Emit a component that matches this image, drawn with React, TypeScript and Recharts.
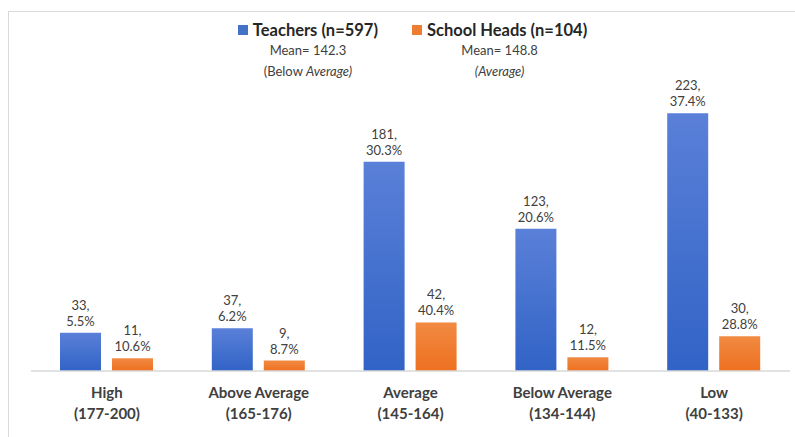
import React from "react";
import { BarChart, Bar, XAxis, YAxis, Legend, LabelList } from "recharts";

const categoryNames = ["High", "Above Average", "Average", "Below Average", "Low"];
const categoryRanges = ["(177-200)", "(165-176)", "(145-164)", "(134-144)", "(40-133)"];
const teacherCounts = [33, 37, 181, 123, 223];
const teacherPcts = [5.5, 6.2, 30.3, 20.6, 37.4];
const headCounts = [11, 9, 42, 12, 30];
const headPcts = [10.6, 8.7, 40.4, 11.5, 28.8];

const seriesOrder = ["teachers", "heads"];
const seriesNames: Record<string, string> = { teachers: "Teachers (n=597)", heads: "School Heads (n=104)" };
const seriesColors: Record<string, string> = { teachers: "#4472C4", heads: "#ED7D31" };
const seriesMeans: Record<string, string> = { teachers: "Mean= 142.3", heads: "Mean= 148.8" };
const seriesLevelPlain: Record<string, string> = { teachers: "(Below ", heads: "" };
const seriesLevelItalic: Record<string, string> = { teachers: "Average)", heads: "(Average)" };

const data = categoryNames.map((c, i) => ({
  cat: c,
  teachers: teacherCounts[i],
  heads: headCounts[i],
}));

const FONT = "Lato, 'Open Sans', sans-serif";

const makeLabel = (pcts: number[]) => (props: any) => {
  const { x, y, width, value, index } = props;
  const cx = Number(x) + Number(width) / 2;
  return (
    <text x={cx} y={Number(y) - 23} textAnchor="middle" fontSize={13} fill="#404040" fontFamily={FONT}>
      <tspan x={cx}>{value},</tspan>
      <tspan x={cx} dy={16}>{pcts[index].toFixed(1)}%</tspan>
    </text>
  );
};

const CatTick = (props: any) => {
  const { x, y, index } = props;
  return (
    <text x={x} y={y + 19} textAnchor="middle" fontSize={15} fontWeight="bold" fill="#404040" fontFamily={FONT}>
      <tspan x={x}>{categoryNames[index]}</tspan>
      <tspan x={x} dy={21}>{categoryRanges[index]}</tspan>
    </text>
  );
};

const LegendContent = (props: any) => {
  const payload = (props.payload || []).slice().sort(
    (a: any, b: any) => seriesOrder.indexOf(a.dataKey) - seriesOrder.indexOf(b.dataKey)
  );
  return (
    <div style={{ display: "flex", justifyContent: "center", gap: 34, paddingLeft: 30, fontFamily: FONT }}>
      {payload.map((p: any) => {
        const k = p.dataKey as string;
        return (
          <div key={k} style={{ display: "flex", flexDirection: "column", alignItems: "center", color: "#404040" }}>
            <div style={{ display: "flex", alignItems: "center", fontSize: 16.5, fontWeight: "bold", color: "#262626", lineHeight: "20px" }}>
              <span style={{ display: "inline-block", width: 10, height: 10, background: seriesColors[k], marginRight: 5 }} />
              {seriesNames[k]}
            </div>
            <div style={{ fontSize: 13, lineHeight: "20px" }}>{seriesMeans[k]}</div>
            <div style={{ fontSize: 13, lineHeight: "22px" }}>
              {seriesLevelPlain[k] ? <span>{seriesLevelPlain[k]}</span> : null}
              <i>{seriesLevelItalic[k]}</i>
            </div>
          </div>
        );
      })}
    </div>
  );
};

export default function App() {
  return (
    <div style={{ position: "fixed", left: 0, top: 0, width: 795, height: 437, background: "#fff" }}>
      <div
        style={{
          position: "absolute",
          left: 8,
          top: 11,
          width: 787,
          height: 426,
          borderTop: "1px solid #d9d9d9",
          borderLeft: "1px solid #d9d9d9",
          boxSizing: "border-box",
        }}
      />
      <div style={{ position: "absolute", left: 0, top: 0 }}>
        <BarChart
          width={795}
          height={437}
          data={data}
          margin={{ top: 82, right: 5, left: 31, bottom: 6 }}
          barGap={11}
          barSize={41}
        >
          <defs>
            <linearGradient id="gBlue" x1="0" y1="0" x2="0" y2="1">
              <stop offset="0%" stopColor="#5a80d8" />
              <stop offset="100%" stopColor="#3163c6" />
            </linearGradient>
            <linearGradient id="gOrange" x1="0" y1="0" x2="0" y2="1">
              <stop offset="0%" stopColor="#f18a42" />
              <stop offset="100%" stopColor="#ee7020" />
            </linearGradient>
          </defs>
          <XAxis
            dataKey="cat"
            axisLine={{ stroke: "#d9d9d9", strokeWidth: 1.5 }}
            tickLine={false}
            tick={<CatTick />}
            interval={0}
            height={60}
          />
          <YAxis hide domain={[0, 250]} />
          <Legend
            layout="horizontal"
            verticalAlign="middle"
            align="center"
            content={<LegendContent />}
            wrapperStyle={{ top: 20, left: 0, width: 795 }}
          />
          <Bar dataKey="teachers" name={seriesNames.teachers} fill="url(#gBlue)" isAnimationActive={false}>
            <LabelList dataKey="teachers" content={makeLabel(teacherPcts)} />
          </Bar>
          <Bar dataKey="heads" name={seriesNames.heads} fill="url(#gOrange)" isAnimationActive={false}>
            <LabelList dataKey="heads" content={makeLabel(headPcts)} />
          </Bar>
        </BarChart>
      </div>
    </div>
  );
}
